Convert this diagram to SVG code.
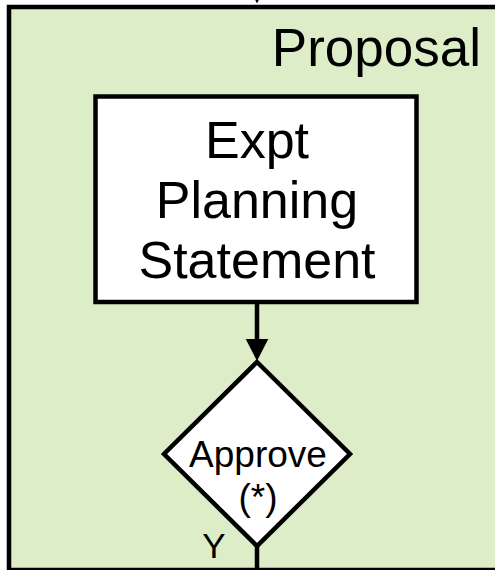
<svg xmlns="http://www.w3.org/2000/svg" width="495" height="570" viewBox="0 0 495 570">
<style>
.t{font-family:"Liberation Sans",Arial,sans-serif;fill:#000;}
.s{stroke:#000;stroke-width:4.5;}
</style>
<rect width="495" height="570" fill="#fff"/>
<g id="proposal">
<rect x="9" y="7" width="500" height="563" fill="#dcedc8" class="s"/>
<text class="t" x="481" y="66" font-size="53" text-anchor="end">Proposal</text>
</g>
<g id="connectors">
<polygon points="246,-19 268,-19 257,3.5" fill="#000"/>
<line x1="257" y1="304" x2="257" y2="340" class="s"/>
<polygon points="245.7,339 268.3,339 257,361" fill="#000"/>
<line x1="257" y1="546" x2="257" y2="572" class="s"/>
</g>
<g id="expt">
<rect x="95.5" y="96.5" width="321" height="205.5" fill="#fff" class="s"/>
<text class="t" font-size="52" text-anchor="middle"><tspan x="257" y="158">Expt</tspan><tspan x="257" y="218">Planning</tspan><tspan x="257" y="278">Statement</tspan></text>
</g>
<g id="approve">
<polygon points="257,362 350,454 257,546 164,454" fill="#fff" class="s" stroke-linejoin="miter"/>
<text class="t" font-size="37" text-anchor="middle"><tspan x="258" y="467">Approve</tspan><tspan x="258" y="510">(*)</tspan></text>
<text class="t" x="214" y="558" font-size="35" text-anchor="middle">Y</text>
</g>
</svg>
